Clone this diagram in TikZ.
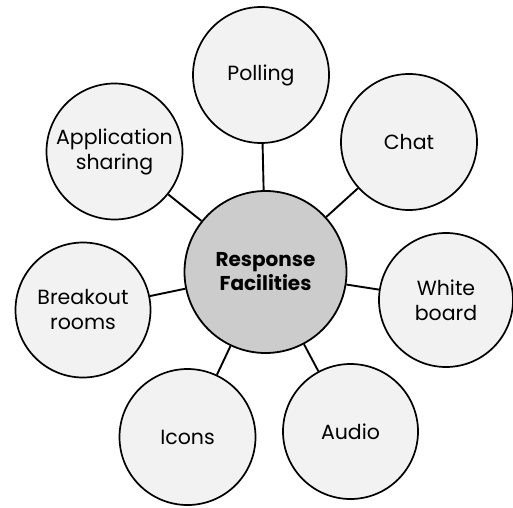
\documentclass[tikz,border=0pt]{standalone}
\usepackage{fontspec}
\setmainfont{Poppins}
\begin{document}
\begin{tikzpicture}[x=1pt,y=1pt,
  hub/.style={circle, draw=black, line width=1.8pt, fill=black!20, inner sep=0pt,
    minimum size=162pt, align=center, font=\fontsize{20}{24}\selectfont\bfseries},
  leaf/.style={circle, draw=black, line width=1.7pt, fill=black!5, inner sep=0pt,
    align=center, font=\fontsize{20.5}{25}\selectfont},
  link/.style={line width=1.9pt, draw=black}]
\useasboundingbox (0,0) rectangle (513,507);
% centre hub (image y measured from the top, hence 507 - y)
\coordinate (pc) at (265.5,235);
% outer topics
\node[leaf, minimum size=136pt] (poll)  at (261,432)     {Polling};
\node[leaf, minimum size=136pt] (chat)  at (409,365)     {Chat};
\node[leaf, minimum size=134pt] (wb)    at (446,207)     {White\\board};
\node[leaf, minimum size=135pt] (audio) at (350.5,75.5)  {Audio};
\node[leaf, minimum size=136pt] (icons) at (187.5,70)    {Icons};
\node[leaf, minimum size=135pt] (brk)   at (83,197)      {Breakout\\rooms};
\node[leaf, minimum size=136pt] (app)   at (114.5,355.5) {Application\\sharing};
\node[hub] (hub) at (pc) {Response\\Facilities};
% spokes from the hub to each topic
\foreach \n in {poll,chat,wb,audio,icons,brk,app}
  \draw[link] (hub) -- (\n);
\end{tikzpicture}
\end{document}
